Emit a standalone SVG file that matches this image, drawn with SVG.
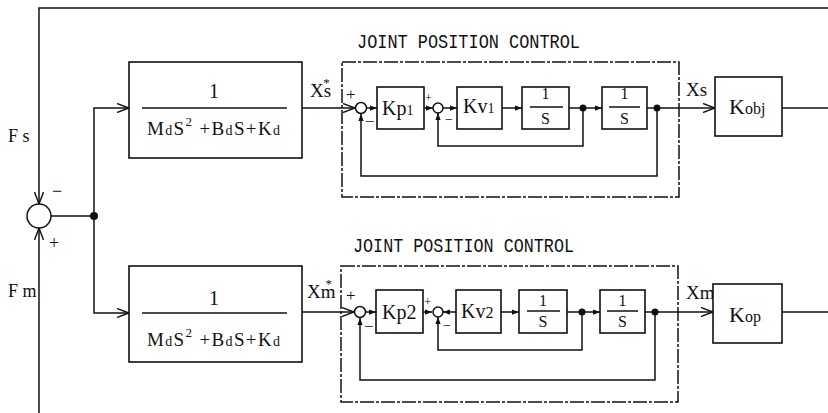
<svg xmlns="http://www.w3.org/2000/svg" width="828" height="413" viewBox="0 0 828 413">
<defs>
<marker id="open" viewBox="0 0 12 10" refX="12" refY="5" markerWidth="12" markerHeight="10" markerUnits="userSpaceOnUse" orient="auto">
<path d="M0,0.5 L12,5 L0,9.5" fill="none" stroke="#111" stroke-width="1.4"/>
</marker>
<marker id="fill" viewBox="0 0 8 6" refX="8" refY="3" markerWidth="7" markerHeight="6" markerUnits="userSpaceOnUse" orient="auto">
<path d="M0,0 L8,3 L0,6 Z" fill="#111"/>
</marker>
<style>
.ln{fill:none;stroke:#111;stroke-width:1.5}
.bx{fill:#fff;stroke:#111;stroke-width:1.6}
.dash{fill:none;stroke:#111;stroke-width:1.5;stroke-dasharray:14 2 3 2}
.sj{fill:#fff;stroke:#111;stroke-width:1.5}
.dot{fill:#111}
.t{font-family:"Liberation Serif","DejaVu Serif",serif;fill:#111}
.m{font-family:"Liberation Mono","DejaVu Sans Mono",monospace;fill:#111}
</style>
</defs>
<rect width="828" height="413" fill="#fff"/>

<g id="connectors">
<path class="ln" d="M828,8 H39 V204" marker-end="url(#open)"/>
<path class="ln" d="M39,413 V228" marker-end="url(#open)"/>
<path class="ln" d="M51,216 H94"/>
<path class="ln" d="M94,216 V108 H129" marker-end="url(#open)"/>
<path class="ln" d="M94,216 V313 H129" marker-end="url(#open)"/>
<path class="ln" d="M302,108 H355" marker-end="url(#open)"/>
<path class="ln" d="M366,108 H377" marker-end="url(#fill)"/>
<path class="ln" d="M424,108 H433" marker-end="url(#fill)"/>
<path class="ln" d="M443,108 H457" marker-end="url(#fill)"/>
<path class="ln" d="M502,108 H522" marker-end="url(#fill)"/>
<path class="ln" d="M569,108 H602" marker-end="url(#fill)"/>
<path class="ln" d="M647,108 H715" marker-end="url(#open)"/>
<path class="ln" d="M782,108 H828"/>
<path class="ln" d="M583,108 V146 H438 V113" marker-end="url(#fill)"/>
<path class="ln" d="M657,108 V176 H361 V114" marker-end="url(#fill)"/>
<path class="ln" d="M302,312 H354" marker-end="url(#open)"/>
<path class="ln" d="M365,312 H376" marker-end="url(#fill)"/>
<path class="ln" d="M423,312 H432" marker-end="url(#fill)"/>
<path class="ln" d="M456,312 H443" marker-end="url(#fill)"/>
<path class="ln" d="M501,312 H519" marker-end="url(#fill)"/>
<path class="ln" d="M567,312 H600" marker-end="url(#fill)"/>
<path class="ln" d="M645,312 H713" marker-end="url(#open)"/>
<path class="ln" d="M782,312 H828"/>
<path class="ln" d="M582,312 V350 H438 V317" marker-end="url(#fill)"/>
<path class="ln" d="M655,312 V380 H360 V318" marker-end="url(#fill)"/>
</g>

<g id="sum0">
<circle class="sj" cx="39" cy="216" r="12"/>
<text class="t" x="52" y="197" font-size="18">−</text>
<text class="t" x="49" y="249" font-size="18">+</text>
</g>
<text class="t" x="8" y="142" font-size="18">F s</text>
<text class="t" x="8" y="297" font-size="18">F m</text>
<g id="branch"><circle class="dot" cx="94" cy="216" r="4"/></g>

<g id="block1">
<rect class="bx" x="129" y="62" width="173" height="96"/>
<line class="ln" x1="142" y1="108" x2="287" y2="108"/>
<text class="t" x="214" y="98" font-size="20" text-anchor="middle">1</text>
<text class="t" x="147" y="135" font-size="19" textLength="133" lengthAdjust="spacing">M<tspan font-size="14">d</tspan>S<tspan font-size="13" dy="-9">2</tspan><tspan dy="9"> +B</tspan><tspan font-size="14">d</tspan>S+K<tspan font-size="14">d</tspan></text>
</g>
<g id="block2">
<rect class="bx" x="129" y="266" width="173" height="96"/>
<line class="ln" x1="142" y1="313" x2="287" y2="313"/>
<text class="t" x="214" y="305" font-size="20" text-anchor="middle">1</text>
<text class="t" x="147" y="346" font-size="19" textLength="133" lengthAdjust="spacing">M<tspan font-size="14">d</tspan>S<tspan font-size="13" dy="-9">2</tspan><tspan dy="9"> +B</tspan><tspan font-size="14">d</tspan>S+K<tspan font-size="14">d</tspan></text>
</g>

<text class="t" x="310" y="97" font-size="19">Xs<tspan font-size="13" dx="-8" dy="-10">*</tspan></text>
<text class="t" x="307" y="298" font-size="19">Xm<tspan font-size="13" dx="-10" dy="-10">*</tspan></text>

<g id="jpc1">
<rect class="dash" x="342" y="62" width="337" height="135"/>
<text class="m" x="357" y="48" font-size="21" textLength="223" lengthAdjust="spacingAndGlyphs">JOINT POSITION CONTROL</text>
<circle class="sj" cx="361" cy="108" r="5.5"/>
<text class="t" x="346" y="100" font-size="17">+</text>
<text class="t" x="365" y="127" font-size="17">−</text>
<rect class="bx" x="377" y="87" width="47" height="42"/>
<text class="t" x="382" y="115" font-size="20">Kp<tspan font-size="14">1</tspan></text>
<circle class="sj" cx="438" cy="108" r="5"/>
<text class="t" x="425" y="102" font-size="12">+</text>
<text class="t" x="445" y="124" font-size="14">−</text>
<rect class="bx" x="457" y="87" width="45" height="42"/>
<text class="t" x="463" y="113" font-size="20">Kv<tspan font-size="14">1</tspan></text>
<rect class="bx" x="522" y="87" width="47" height="42"/>
<text class="t" x="545.5" y="99" font-size="16" text-anchor="middle">1</text>
<line class="ln" x1="530" y1="107" x2="563" y2="107"/>
<text class="t" x="545.5" y="124" font-size="16" text-anchor="middle">S</text>
<circle class="dot" cx="583" cy="108" r="3.5"/>
<rect class="bx" x="602" y="87" width="45" height="42"/>
<text class="t" x="624.5" y="99" font-size="16" text-anchor="middle">1</text>
<line class="ln" x1="609" y1="107" x2="640" y2="107"/>
<text class="t" x="624.5" y="124" font-size="16" text-anchor="middle">S</text>
<circle class="dot" cx="657" cy="108" r="3.5"/>
</g>

<g id="jpc2">
<rect class="dash" x="341" y="266" width="337" height="136"/>
<text class="m" x="353" y="252" font-size="21" textLength="221" lengthAdjust="spacingAndGlyphs">JOINT POSITION CONTROL</text>
<circle class="sj" cx="360" cy="312" r="5.5"/>
<text class="t" x="346" y="301" font-size="17">+</text>
<text class="t" x="364" y="332" font-size="17">−</text>
<rect class="bx" x="376" y="290" width="47" height="43"/>
<text class="t" x="382" y="319" font-size="20">Kp2</text>
<circle class="sj" cx="438" cy="312" r="5"/>
<text class="t" x="424" y="306" font-size="13">+</text>
<text class="t" x="443" y="330" font-size="14">−</text>
<rect class="bx" x="456" y="290" width="45" height="43"/>
<text class="t" x="461" y="318" font-size="20">Kv<tspan font-size="16">2</tspan></text>
<rect class="bx" x="519" y="290" width="48" height="43"/>
<text class="t" x="543" y="306" font-size="16" text-anchor="middle">1</text>
<line class="ln" x1="527" y1="311" x2="560" y2="311"/>
<text class="t" x="543" y="327" font-size="16" text-anchor="middle">S</text>
<circle class="dot" cx="582" cy="312" r="3.5"/>
<rect class="bx" x="600" y="290" width="45" height="43"/>
<text class="t" x="622.5" y="306" font-size="16" text-anchor="middle">1</text>
<line class="ln" x1="607" y1="311" x2="638" y2="311"/>
<text class="t" x="622.5" y="327" font-size="16" text-anchor="middle">S</text>
<circle class="dot" cx="655" cy="312" r="3.5"/>
</g>

<text class="t" x="686" y="96" font-size="19">Xs</text>
<text class="t" x="686" y="299" font-size="19">Xm</text>

<g id="kobj">
<rect class="bx" x="715" y="77" width="67" height="59"/>
<text class="t" x="729" y="114" font-size="22">K<tspan font-size="16">obj</tspan></text>
</g>
<g id="kop">
<rect class="bx" x="713" y="284" width="69" height="59"/>
<text class="t" x="729" y="322" font-size="22">K<tspan font-size="16">op</tspan></text>
</g>
</svg>
